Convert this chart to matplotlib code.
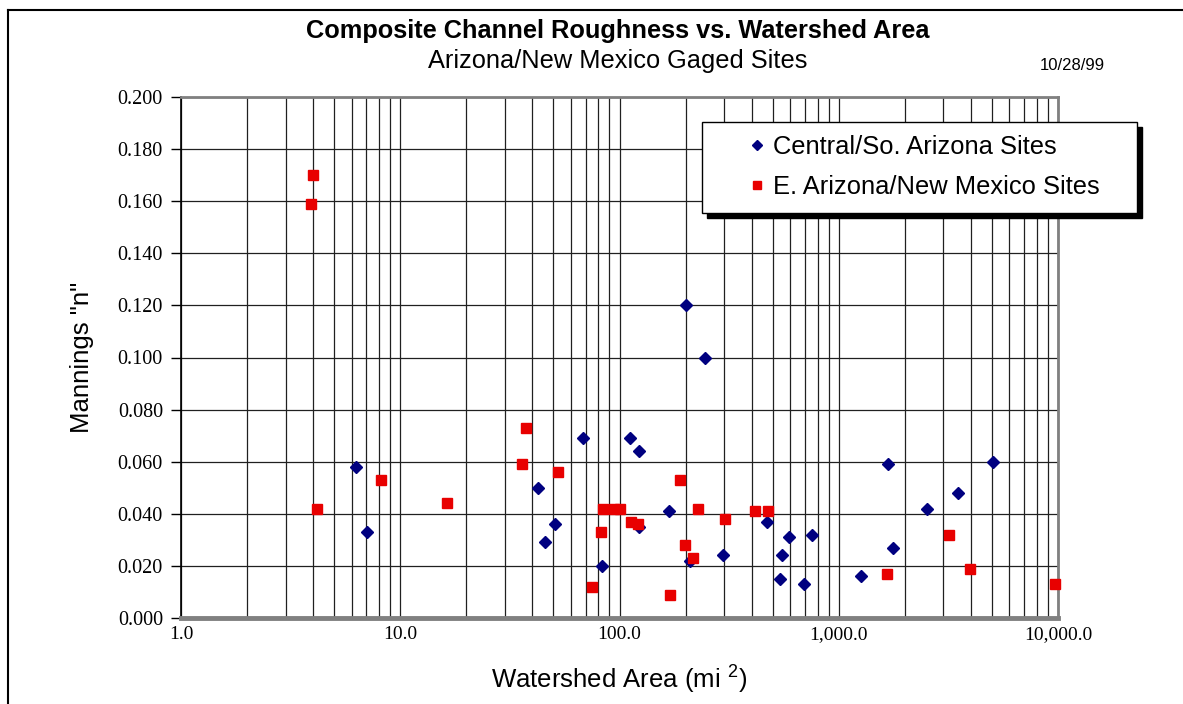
import matplotlib
matplotlib.use("Agg")
import matplotlib.pyplot as plt
from matplotlib.lines import Line2D
from matplotlib.patches import Rectangle
from matplotlib.ticker import FixedLocator, NullFormatter

# Central/So. Arizona gaged sites: drainage area (sq mi) and composite n
central_area = [6.3, 7.05, 42.4, 45.5, 50.7, 67.9, 83.3, 111.5, 122.6, 122.6,
                167.6, 200.7, 209, 246, 295, 471, 542, 551, 591, 691,
                757, 1263, 1686, 1765, 2517, 3517, 5035]
central_n = [0.058, 0.033, 0.050, 0.029, 0.036, 0.069, 0.020, 0.069, 0.064, 0.035,
             0.041, 0.120, 0.022, 0.100, 0.024, 0.037, 0.015, 0.024, 0.031, 0.013,
             0.032, 0.016, 0.059, 0.027, 0.042, 0.048, 0.060]

# E. Arizona/New Mexico gaged sites
east_area = [3.9, 4.0, 4.17, 8.16, 16.3, 35.8, 37.4, 52.4, 75.2, 82.4,
             84.5, 94.2, 100.7, 112.7, 121.3, 169.4, 189.7, 198.5, 217.5, 226.9,
             303.7, 416.8, 478, 1664, 3180, 3973, 9690]
east_n = [0.159, 0.170, 0.042, 0.053, 0.044, 0.059, 0.073, 0.056, 0.012, 0.033,
          0.042, 0.042, 0.042, 0.037, 0.036, 0.009, 0.053, 0.028, 0.023, 0.042,
          0.038, 0.041, 0.041, 0.017, 0.032, 0.019, 0.013]

x_ticks = [1, 10, 100, 1000, 10000]
x_labels = ["1.0", "10.0", "100.0", "1,000.0", "10,000.0"]
y_ticks = [0.0, 0.02, 0.04, 0.06, 0.08, 0.10, 0.12, 0.14, 0.16, 0.18, 0.20]
y_labels = ["%.3f" % v for v in y_ticks]

sans = "Liberation Sans"
serif = "Liberation Serif"
plt.rcParams["mathtext.fontset"] = "custom"
plt.rcParams["mathtext.rm"] = sans
plt.rcParams["mathtext.it"] = sans

W, H = 1183, 704
fig = plt.figure(figsize=(W / 100, H / 100), dpi=100)
ax = fig.add_axes([181 / W, 1 - 618 / H, (1058 - 181) / W, (618 - 97) / H])

ax.set_xscale("log")
ax.set_xlim(1, 10000)
ax.set_ylim(0, 0.2)

ax.xaxis.set_major_locator(FixedLocator(x_ticks))
minor = [m * 10 ** d for d in range(4) for m in range(2, 10)]
ax.xaxis.set_minor_locator(FixedLocator(minor))
ax.xaxis.set_minor_formatter(NullFormatter())
ax.set_xticks(x_ticks)
ax.set_xticklabels(x_labels, fontfamily=serif, fontsize=14)
ax.set_yticks(y_ticks)
ax.set_yticklabels(y_labels, fontfamily=serif, fontsize=14.5)

ax.grid(True, which="both", axis="x", color="#202020", lw=0.9)
ax.grid(True, which="major", axis="y", color="#202020", lw=0.9)
ax.set_axisbelow(True)

ax.tick_params(axis="y", direction="out", length=7, width=1, color="black", pad=6)
ax.tick_params(axis="x", which="both", length=0, pad=6)

for side in ["top", "right"]:
    ax.spines[side].set_color("#808080")
    ax.spines[side].set_linewidth(2)
ax.spines["bottom"].set_color("#808080")
ax.spines["bottom"].set_linewidth(3.5)
ax.spines["left"].set_color("black")
ax.spines["left"].set_linewidth(1.2)

h1, = ax.plot(central_area, central_n, ls="none", marker="D", ms=6.5,
              color="#000080", mec="#000080", clip_on=False, zorder=3)
h2, = ax.plot(east_area, east_n, ls="none", marker="s", ms=6.8,
              color="#e80000", mec="#e80000", clip_on=False, zorder=3)

ax.set_ylabel('Mannings "n"', fontfamily=sans, fontsize=18.5, labelpad=17)
ax.set_xlabel(r"Watershed Area (mi $^{2}$)", fontfamily=sans, fontsize=18.5,
              labelpad=15)

# titles and date
fig.text(618 / W, 1 - 31 / H, "Composite Channel Roughness vs. Watershed Area",
         ha="center", va="center", fontfamily=sans, fontweight="bold", fontsize=18.3)
fig.text(618 / W, 1 - 61 / H, "Arizona/New Mexico Gaged Sites",
         ha="center", va="center", fontfamily=sans, fontsize=18.3)
fig.text(1072 / W, 1 - 66 / H, "10/28/99", ha="center", va="center",
         fontfamily=sans, fontsize=12)

# legend box with a solid drop shadow
bx0, by0, bx1, by1 = 702, 122, 1137, 213
fig.add_artist(Rectangle(((bx0 + 5) / W, 1 - (by1 + 5) / H), (bx1 - bx0) / W,
                         (by1 - by0) / H, transform=fig.transFigure,
                         facecolor="black", edgecolor="black", zorder=5))
fig.add_artist(Rectangle((bx0 / W, 1 - by1 / H), (bx1 - bx0) / W, (by1 - by0) / H,
                         transform=fig.transFigure, facecolor="white",
                         edgecolor="black", lw=1, zorder=6))
leg = fig.legend([h1, h2], ["Central/So. Arizona Sites", "E. Arizona/New Mexico Sites"],
                 loc="upper left", bbox_to_anchor=(744 / W, 1 - 135 / H),
                 bbox_transform=fig.transFigure, frameon=False, borderpad=0,
                 borderaxespad=0, handlelength=1.0, handletextpad=0.14,
                 labelspacing=0.62, markerscale=0.75,
                 prop={"family": sans, "size": 18.4})
leg.set_zorder(7)

# outer chart border (left and top edges)
fig.add_artist(Line2D([8 / W, 8 / W], [0, 1 - 10 / H], transform=fig.transFigure,
                      color="black", lw=1.5))
fig.add_artist(Line2D([8 / W, 1], [1 - 10 / H, 1 - 10 / H], transform=fig.transFigure,
                      color="black", lw=1.5))

fig.savefig("out.png", dpi=100)
